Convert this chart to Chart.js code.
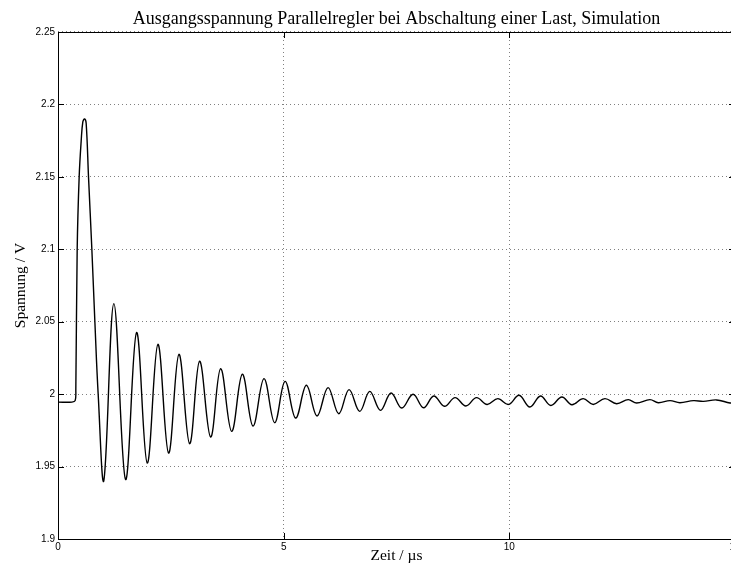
<!DOCTYPE html>
<html>
<head>
<meta charset="utf-8">
<title>Ausgangsspannung Parallelregler</title>
<script src="https://cdn.jsdelivr.net/npm/chart.js@4.4.1/dist/chart.umd.min.js"></script>
<style>
  html, body { margin: 0; padding: 0; background: #fff; overflow: hidden; }
  canvas { display: block; }
</style>
</head>
<body>
<canvas id="chart" width="740" height="571"></canvas>
<script>
// Values (time in µs, voltage in V)
const timeUs = [
    0, 0.31, 0.38, 0.395, 0.425, 0.469, 0.514, 0.55, 0.588, 0.624, 0.676, 0.75, 0.817, 0.89,
    1.016, 1.238, 1.497, 1.741, 1.977, 2.213, 2.45, 2.679, 2.916, 3.137, 3.381, 3.603,
    3.847, 4.084, 4.32, 4.563, 4.80, 5.03, 5.266, 5.503, 5.739, 5.983, 6.22, 6.448,
    6.685, 6.907, 7.144, 7.379, 7.616, 7.867, 8.10, 8.326, 8.563, 8.798, 9.036, 9.273,
    9.508, 9.745, 9.982, 10.217, 10.455, 10.69, 10.92, 11.164, 11.386, 11.636, 11.858,
    12.118, 12.377, 12.634, 12.82, 13.115, 13.30, 13.56, 13.78, 14.08, 14.3, 14.59, 14.89, 15
];
const voltage = [
    1.9945, 1.9945, 1.9955, 2.003, 2.100, 2.150, 2.175, 2.188, 2.190, 2.187, 2.150, 2.100, 2.050, 2.000,
    1.9405, 2.0625, 1.9411, 2.0425, 1.9524, 2.0344, 1.9593, 2.0275, 1.9658, 2.0227, 1.9704, 2.0176,
    1.9743, 2.0137, 1.978, 2.0107, 1.9803, 2.0088, 1.9835, 2.0061, 1.9849, 2.0045, 1.9865, 2.0031,
    1.9881, 2.0019, 1.9888, 2.0008, 1.9904, 1.9999, 1.9906, 1.9987, 1.9916, 1.9976, 1.9918, 1.9976,
    1.9929, 1.9969, 1.9929, 1.9992, 1.9911, 1.9987, 1.9922, 1.998, 1.9927, 1.9969, 1.9929,
    1.9969, 1.9934, 1.9962, 1.9939, 1.9962, 1.9941, 1.9955, 1.9941, 1.9955, 1.995, 1.996, 1.9939, 1.994
];

const xTicks = [0, 5, 10, 15];
const yTicks = [1.9, 1.95, 2, 2.05, 2.1, 2.15, 2.2, 2.25];
const yTickLabels = ['1.9', '1.95', '2', '2.05', '2.1', '2.15', '2.2', '2.25'];

const tickFont = { family: 'Liberation Sans', size: 10 };
const serifFont = { family: 'Liberation Serif', size: 15.5 };

// Box round the plot with short inward ticks, MATLAB style
const framePlugin = {
    id: 'frame',
    afterDraw(chart) {
        const { ctx, chartArea: a, scales: { x, y } } = chart;
        const len = 6;
        ctx.save();
        ctx.strokeStyle = '#000';
        ctx.lineWidth = 1;
        ctx.beginPath();
        xTicks.forEach(v => {
            const px = Math.round(x.getPixelForValue(v)) + 0.5;
            ctx.moveTo(px, a.bottom); ctx.lineTo(px, a.bottom - len);
            ctx.moveTo(px, a.top); ctx.lineTo(px, a.top + len);
        });
        yTicks.forEach(v => {
            const py = Math.round(y.getPixelForValue(v)) + 0.5;
            ctx.moveTo(a.left, py); ctx.lineTo(a.left + len, py);
            ctx.moveTo(a.right, py); ctx.lineTo(a.right - len, py);
        });
        ctx.stroke();
        ctx.strokeRect(Math.round(a.left) + 0.5, Math.round(a.top) + 0.5,
            Math.round(a.right - a.left), Math.round(a.bottom - a.top));
        ctx.restore();
    }
};

const ctx = document.getElementById('chart').getContext('2d');
new Chart(ctx, {
    type: 'line',
    data: {
        datasets: [{
            data: timeUs.map((t, i) => ({ x: t, y: voltage[i] })),
            borderColor: '#000',
            borderWidth: 1.4,
            pointRadius: 0,
            fill: false,
            tension: 0.38
        }]
    },
    options: {
        responsive: false,
        animation: false,
        layout: { padding: { left: 0, right: 5, top: 0, bottom: 0 } },
        plugins: {
            legend: { display: false },
            tooltip: { enabled: false },
            title: {
                display: true,
                text: 'Ausgangsspannung Parallelregler bei Abschaltung einer Last, Simulation',
                fullSize: false,
                color: '#000',
                font: { family: 'Liberation Serif', size: 18, weight: 'normal' },
                padding: { top: 8.7, bottom: 1.7 }
            }
        },
        scales: {
            x: {
                type: 'linear',
                min: 0,
                max: 15,
                afterBuildTicks: s => { s.ticks = xTicks.map(v => ({ value: v })); },
                afterFit: s => { s.height = 32; s.paddingLeft = 0; s.paddingRight = 0; },
                grid: { color: '#808080', drawTicks: false },
                border: { display: false, dash: [1, 3] },
                ticks: { font: tickFont, color: '#000', padding: 2, maxRotation: 0, autoSkip: false },
                title: {
                    display: true,
                    text: 'Zeit / µs',
                    color: '#000',
                    font: serifFont,
                    padding: { top: 0, bottom: 5.6 }
                }
            },
            y: {
                type: 'linear',
                min: 1.9,
                max: 2.25,
                afterBuildTicks: s => { s.ticks = yTicks.map(v => ({ value: v })); },
                afterFit: s => { s.width = 58; s.paddingTop = 0; s.paddingBottom = 0; },
                grid: { color: '#808080', drawTicks: false },
                border: { display: false, dash: [1, 3] },
                ticks: {
                    font: tickFont,
                    color: '#000',
                    padding: 3,
                    autoSkip: false,
                    callback: v => yTickLabels[yTicks.indexOf(v)]
                },
                title: {
                    display: true,
                    text: 'Spannung / V',
                    color: '#000',
                    font: serifFont,
                    padding: { top: 12, bottom: 0 }
                }
            }
        }
    },
    plugins: [framePlugin]
});
</script>
</body>
</html>
